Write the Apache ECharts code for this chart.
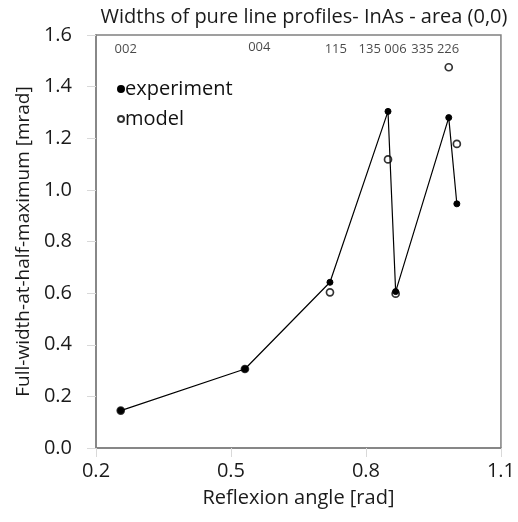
<!DOCTYPE html>
<html>
<head>
<meta charset="utf-8">
<script src="https://cdn.jsdelivr.net/npm/echarts@6/dist/echarts.min.js"></script>
<style>html,body{margin:0;padding:0;background:#fff;}#c{width:518px;height:522px;}</style>
</head>
<body>
<div id="c"></div>
<script>
// Data
const angle = [0.255, 0.531, 0.720, 0.849, 0.866, 0.984, 1.002];
const experiment = [0.145, 0.306, 0.642, 1.304, 0.606, 1.280, 0.946];
const model = [0.145, 0.306, 0.603, 1.118, 0.598, 1.475, 1.178];
const reflexLabels = ['002', '004', '115', '135 006', '335 226'];
const reflexX = [0.266, 0.563, 0.733, 0.837, 0.954];
const reflexY = [1.546, 1.551, 1.546, 1.546, 1.546];

const FONT = 'Open Sans';
const chart = echarts.init(document.getElementById('c'), null, {renderer: 'canvas'});
chart.setOption({
  backgroundColor: '#fff',
  animation: false,
  textStyle: {fontFamily: FONT},
  title: {
    text: 'Widths of pure line profiles- InAs - area (0,0)',
    left: 299, top: 2, textAlign: 'center',
    textStyle: {fontFamily: FONT, fontSize: 20, fontWeight: 'normal', color: '#1a1a1a'}
  },
  legend: {
    orient: 'vertical', left: 112, top: 74, itemGap: 10,
    itemWidth: 6, itemHeight: 6,
    textStyle: {fontFamily: FONT, fontSize: 20, color: '#111', padding: [0, 0, 0, -4]},
    data: [{name: 'experiment', icon: 'circle'}, {name: 'model', icon: 'circle'}]
  },
  grid: {left: 96, right: 15, top: 35, bottom: 74, show: true, borderColor: '#808080', borderWidth: 1.5},
  xAxis: {
    type: 'value', min: 0.2, max: 1.1, interval: 0.3,
    name: 'Reflexion angle [rad]', nameLocation: 'middle', nameGap: 40,
    nameTextStyle: {fontFamily: FONT, fontSize: 20, color: '#1a1a1a'},
    axisLine: {show: true, lineStyle: {color: '#808080', width: 1.5}},
    axisTick: {show: true, length: 9, lineStyle: {color: '#d9d9d9'}},
    axisLabel: {fontFamily: FONT, fontSize: 20, color: '#1a1a1a', margin: 13, formatter: v => v.toFixed(1)},
    splitLine: {show: false}
  },
  yAxis: {
    type: 'value', min: 0, max: 1.6, interval: 0.2,
    name: 'Full-width-at-half-maximum [mrad]', nameLocation: 'middle', nameGap: 62,
    nameTextStyle: {fontFamily: FONT, fontSize: 19, color: '#1a1a1a'},
    axisLine: {show: true, lineStyle: {color: '#808080', width: 1.5}},
    axisTick: {show: true, length: 9, lineStyle: {color: '#d9d9d9'}},
    axisLabel: {fontFamily: FONT, fontSize: 20, color: '#1a1a1a', margin: 24, formatter: v => v.toFixed(1)},
    splitLine: {show: false}
  },
  series: [
    {
      name: 'model', type: 'scatter', z: 2,
      data: angle.map((a, i) => [a, model[i]]),
      symbol: 'circle', symbolSize: 7,
      itemStyle: {color: '#fff', borderColor: '#000', borderWidth: 1.7}
    },
    {
      name: 'experiment', type: 'line', z: 3,
      data: angle.map((a, i) => [a, experiment[i]]),
      symbol: 'circle', symbolSize: 6, showAllSymbol: true,
      lineStyle: {color: '#000', width: 1.2},
      itemStyle: {color: '#000', borderColor: '#000', borderWidth: 1}
    },
    {
      name: 'labels', type: 'scatter', z: 4, symbolSize: 0, silent: true,
      data: reflexX.map((x, i) => ({value: [x, reflexY[i]], label: {formatter: reflexLabels[i]}})),
      label: {show: true, position: 'inside', fontFamily: FONT, fontSize: 13, color: '#1a1a1a'}
    }
  ]
});
</script>
</body>
</html>
